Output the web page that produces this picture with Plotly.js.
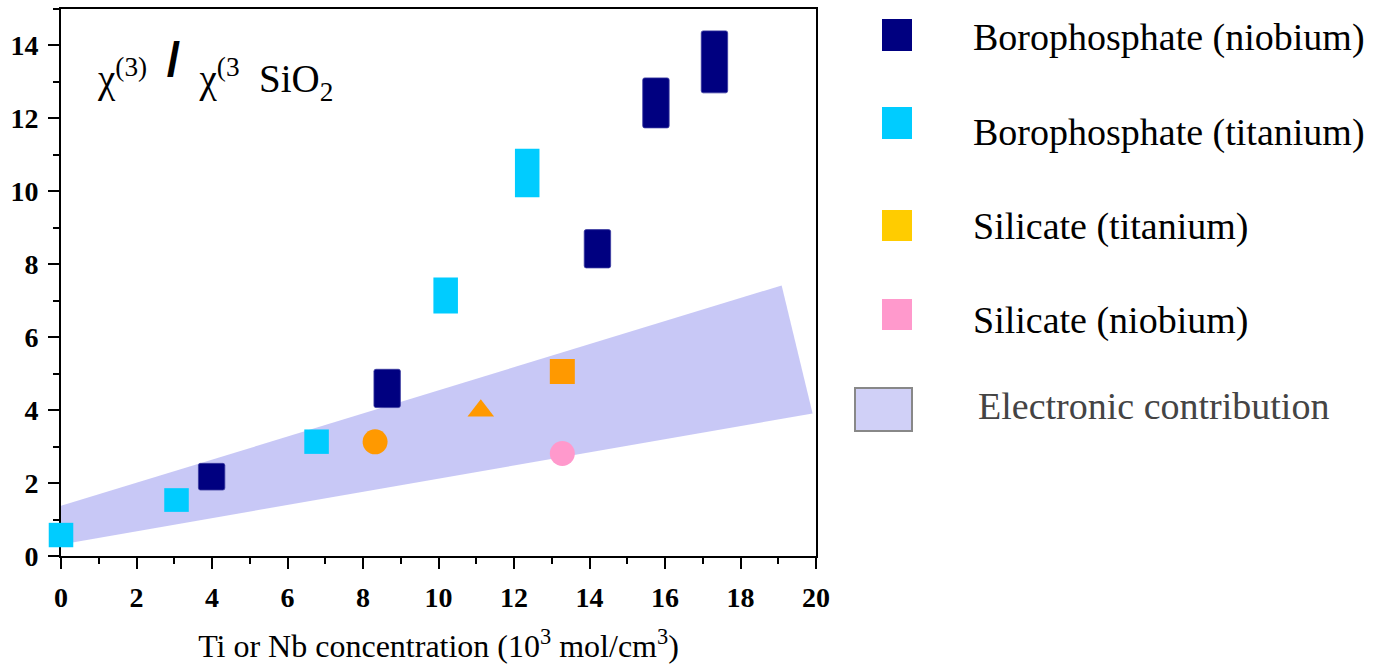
<!DOCTYPE html>
<html>
<head>
<meta charset="utf-8">
<script src="https://cdn.plot.ly/plotly-3.0.1.min.js"></script>
<style>html,body{margin:0;padding:0;background:#fff;}#chart{width:1385px;height:664px;}</style>
</head>
<body>
<div id="chart"></div>
<script>
// Borophosphate (niobium): x position, lower and upper value of each bar
const nbBoroX = [3.99, 8.64, 14.21, 15.76, 17.31];
const nbBoroLow = [1.81, 4.07, 7.90, 11.74, 12.70];
const nbBoroHigh = [2.54, 5.12, 8.95, 13.11, 14.40];
// Borophosphate (titanium)
const tiBoroX = [0, 3.06, 6.77, 10.19, 12.35];
const tiBoroLow = [0.24, 1.21, 2.80, 6.65, 9.84];
const tiBoroHigh = [0.91, 1.86, 3.47, 7.64, 11.17];
// Silicate (titanium)
const tiSilX = [8.32, 11.12, 13.28];
const tiSilY = [3.13, 3.98, 5.06];
const tiSilSymbols = ['circle', 'triangle-up', 'square'];
// Silicate (niobium)
const nbSilX = [13.28];
const nbSilY = [2.81];
// Electronic contribution band (polygon corners)
const bandX = [-0.18, 19.09, 19.91, -0.1];
const bandY = [1.32, 7.42, 3.91, 0.30];

const legendNames = ['Borophosphate (niobium)', 'Borophosphate (titanium)', 'Silicate (titanium)', 'Silicate (niobium)', 'Electronic contribution'];
const legendColors = ['#000080', '#00CCFF', '#FFCC00', '#FF99CC'];

const W = 1385, H = 664;
const L0 = 36;               // left edge of the marker overlay area (px)
const L = 61, R = 816, T = 9, B = 556;
const pxPaper = v => (v - L0) / (R - L0);
const py = v => (B - v) / (B - T);
const XMAX = 20;
const xOverlayMin = -XMAX * (L - L0) / (R - L);   // same scale as main x axis

const serif = 'Liberation Serif';
const NB = '\u00A0';

const diff = (hi, lo) => hi.map((h, i) => h - lo[i]);

const traces = [
  {
    type: 'bar', x: nbBoroX, base: nbBoroLow, y: diff(nbBoroHigh, nbBoroLow),
    width: 0.7, marker: {color: '#000080', line: {width: 0.8, color: '#3a3aa0'}, cornerradius: 2},
    xaxis: 'x2', yaxis: 'y2'
  },
  {
    type: 'bar', x: tiBoroX, base: tiBoroLow, y: diff(tiBoroHigh, tiBoroLow),
    width: 0.65, marker: {color: '#00CCFF', line: {width: 0}},
    xaxis: 'x2', yaxis: 'y2'
  },
  {
    type: 'scatter', mode: 'markers', x: tiSilX, y: tiSilY,
    marker: {color: '#FF9900', size: [25, 23, 25], symbol: tiSilSymbols, line: {width: 0}, opacity: 1},
    xaxis: 'x2', yaxis: 'y2'
  },
  {
    type: 'scatter', mode: 'markers', x: nbSilX, y: nbSilY,
    marker: {color: '#FF99CC', size: 25, symbol: 'circle', line: {width: 0}, opacity: 1},
    xaxis: 'x2', yaxis: 'y2'
  }
];

// band drawn as a filled path in data coordinates, beneath all traces
const bandPath = bandX.map((x, i) => (i === 0 ? 'M' : 'L') + x + ',' + bandY[i]).join(' ') + ' Z';

// legend layout (pixel rows)
const swTop = [19, 107, 210, 299];
const swBot = [51, 139, 241, 330];
const textY = [38, 132, 227, 320, 406];

const shapes = [{
  type: 'path', xref: 'x', yref: 'y', path: bandPath, layer: 'below',
  fillcolor: 'rgba(150,150,238,0.52)', line: {width: 0}
}];
for (let i = 0; i < 4; i++) {
  shapes.push({
    type: 'rect', xref: 'paper', yref: 'paper',
    x0: pxPaper(882), x1: pxPaper(912), y0: py(swBot[i]), y1: py(swTop[i]),
    fillcolor: legendColors[i], line: {width: 0}
  });
}
shapes.push({
  type: 'rect', xref: 'paper', yref: 'paper',
  x0: pxPaper(855), x1: pxPaper(912), y0: py(431), y1: py(388),
  fillcolor: 'rgba(150,150,238,0.45)', line: {width: 2, color: '#888888'}
});

const annotations = [];
for (let i = 0; i < 5; i++) {
  annotations.push({
    xref: 'paper', yref: 'paper', x: pxPaper(i === 4 ? 976 : 971), y: py(textY[i]),
    xanchor: 'left', yanchor: 'middle', showarrow: false,
    text: legendNames[i],
    font: {family: serif, size: 38, color: i === 4 ? '#444444' : '#000000'}
  });
}
annotations.push({
  xref: 'paper', yref: 'paper', x: pxPaper(95), y: py(70),
  xanchor: 'left', yanchor: 'middle', showarrow: false,
  text: 'χ<sup>(3)</sup>' + NB + NB +
        '<sup><span style="font-family:Liberation Sans;font-weight:bold;font-size:48px">/</span></sup>' +
        NB + NB + 'χ<sup>(3</sup>' + NB + NB + 'SiO<sub>2</sub>',
  font: {family: serif, size: 39, color: '#000'}
});

const axisCommon = {
  showgrid: false, zeroline: false, showline: true, linecolor: '#000', linewidth: 2,
  mirror: true, ticks: 'outside', ticklen: 11, tickwidth: 2, tickcolor: '#000',
  tickfont: {family: serif, size: 28, color: '#000', weight: 'bold'},
  fixedrange: true
};

const mainDomainX = [(L - L0) / (R - L0), 1];

const layout = {
  width: W, height: H,
  margin: {l: L0, r: W - R, t: T, b: H - B, pad: 0},
  paper_bgcolor: '#fff', plot_bgcolor: 'rgba(0,0,0,0)',
  showlegend: false, barmode: 'overlay',
  xaxis: Object.assign({}, axisCommon, {
    domain: mainDomainX,
    range: [0, XMAX], tickmode: 'linear', tick0: 0, dtick: 2,
    minor: {dtick: 1, ticks: 'outside', ticklen: 6, tickwidth: 2, tickcolor: '#000'},
    ticklabelstandoff: 4,
    title: {text: 'Ti or Nb concentration (10<sup>3</sup> mol/cm<sup>3</sup>)',
      font: {family: serif, size: 32, color: '#000'}, standoff: 26}
  }),
  yaxis: Object.assign({}, axisCommon, {
    range: [0, 15], tickmode: 'linear', tick0: 0, dtick: 2,
    minor: {dtick: 1, ticks: 'outside', ticklen: 6, tickwidth: 2, tickcolor: '#000'},
    ticklabelstandoff: 4
  }),
  xaxis2: {domain: [0, 1], range: [xOverlayMin, XMAX], visible: false, anchor: 'y2', fixedrange: true},
  yaxis2: {domain: [0, 1], range: [0, 15], visible: false, anchor: 'x2', fixedrange: true},
  shapes: shapes,
  annotations: annotations
};

Plotly.newPlot('chart', traces, layout, {displayModeBar: false, staticPlot: true});
</script>
</body>
</html>
